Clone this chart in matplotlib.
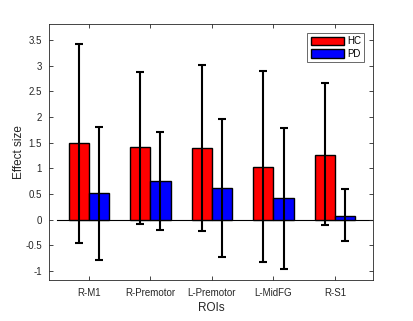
import matplotlib.pyplot as plt
import numpy as np

plt.rcParams['font.family'] = ['Liberation Sans', 'DejaVu Sans']

# ROI names and group means
rois = ['R-M1', 'R-Premotor', 'L-Premotor', 'L-MidFG', 'R-S1']
hc_mean = [1.49, 1.41, 1.40, 1.03, 1.27]
pd_mean = [0.52, 0.75, 0.61, 0.42, 0.08]

# error bar extents (upper / lower ends)
hc_top = [3.43, 2.88, 3.02, 2.89, 2.66]
hc_bot = [-0.45, -0.08, -0.22, -0.82, -0.10]
pd_top = [1.81, 1.71, 1.96, 1.79, 0.60]
pd_bot = [-0.78, -0.19, -0.72, -0.96, -0.42]

x = np.arange(1, len(rois) + 1)
w = 0.33
hc_mean = np.array(hc_mean)
pd_mean = np.array(pd_mean)
hc_err = [hc_mean - np.array(hc_bot), np.array(hc_top) - hc_mean]
pd_err = [pd_mean - np.array(pd_bot), np.array(pd_top) - pd_mean]

fig = plt.figure(figsize=(4.14, 3.21), dpi=100)
ax = fig.add_axes([0.118, 0.128, 0.783, 0.797])

ax.bar(x - w / 2, hc_mean, w, color='#ff0000', edgecolor='black', linewidth=1, label='HC', zorder=2)
ax.bar(x + w / 2, pd_mean, w, color='#0000ff', edgecolor='black', linewidth=1, label='PD', zorder=2)
ax.errorbar(x - w / 2, hc_mean, yerr=hc_err, fmt='none', ecolor='black', elinewidth=1.5,
            capsize=3, capthick=1.5, zorder=3)
ax.errorbar(x + w / 2, pd_mean, yerr=pd_err, fmt='none', ecolor='black', elinewidth=1.5,
            capsize=3, capthick=1.5, zorder=3)
ax.axhline(0, xmin=0.025, xmax=1, color='black', linewidth=0.8, zorder=1)

ax.set_xlim(0.35, 5.62)
ax.set_ylim(-1.17, 3.81)
ax.set_xticks(x)
ax.set_xticklabels(rois)
yt = [-1, -0.5, 0, 0.5, 1, 1.5, 2, 2.5, 3, 3.5]
ax.set_yticks(yt)
ax.set_yticklabels(['%g' % v for v in yt])

gray = '#262626'
for s in ax.spines.values():
    s.set_color(gray)
    s.set_linewidth(0.6)
ax.tick_params(direction='in', length=3, width=0.6, colors=gray, labelsize=7,
               top=True, right=True, labelcolor=gray)
ax.tick_params(axis='x', pad=6)
ax.tick_params(axis='y', pad=5)
ax.set_xlabel('ROIs', fontsize=8.5, color=gray, labelpad=3)
ax.set_ylabel('Effect size', fontsize=8.5, color=gray, labelpad=0)

leg = ax.legend(loc='upper right', fontsize=7, frameon=True, fancybox=False,
                handlelength=3.4, handleheight=1.0, borderpad=0.35, labelspacing=0.25,
                handletextpad=0.3, borderaxespad=0.9)
leg.get_frame().set_edgecolor(gray)
leg.get_frame().set_linewidth(0.6)

fig.savefig('out.png', dpi=100)
